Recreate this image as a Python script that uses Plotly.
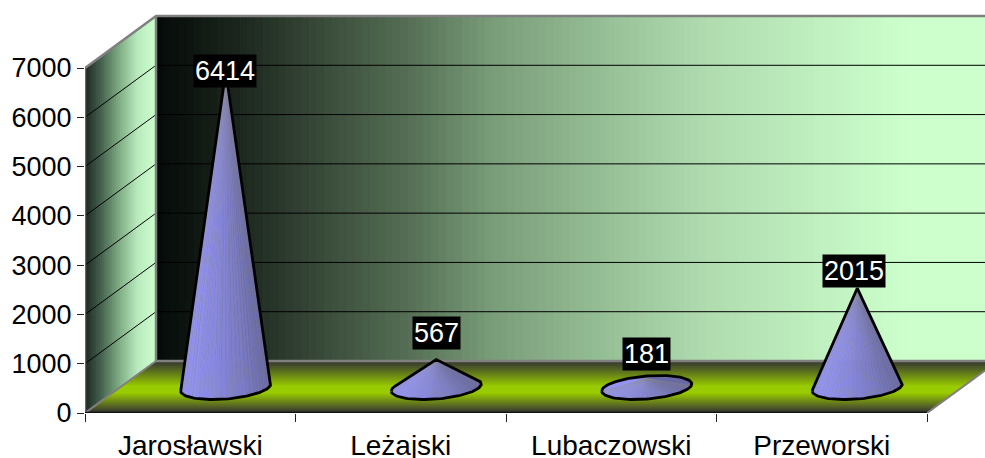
import plotly.graph_objects as go
import numpy as np

# ---- data ----
categories = ["Jarosławski", "Leżajski", "Lubaczowski", "Przeworski"]
values = [6414, 567, 181, 2015]
y_ticks = [0, 1000, 2000, 3000, 4000, 5000, 6000, 7000]
label_lift_px = [0, 27, 25, 17]
label_nudge_px = [-1, 0, 0, -3]

# ---- geometry of the pseudo-3D box (pixels of the 985x458 page) ----
W, H = 985, 458
PX0, PY0 = 85, 413          # origin of the front plane
CAT_PX = 210.5              # pixels per category
PX_PER_UNIT = 345 / 7000    # pixels per value unit
DX_PX, DY_PX = 71, 52       # depth offset of the back wall
TOP_PX = 8                  # top of the plotting region

FONT = "Liberation Sans, Arial, sans-serif"
FS_X, FS_Y, FS_LABEL = 28, 27, 27


def X(px):
    return (px - PX0) / CAT_PX


def Y(py):
    return (PY0 - py) / PX_PER_UNIT


def lerp_stops(stops, p):
    xs = [s[0] for s in stops]
    return [float(np.interp(p, xs, [s[1][i] for s in stops])) for i in range(3)]


def rgb(c):
    return "rgb(%d,%d,%d)" % tuple(int(round(v)) for v in c)


shapes = []


def poly(pts, color):
    path = "M " + " L ".join(f"{X(a):.5f},{Y(b):.3f}" for a, b in pts) + " Z"
    shapes.append(dict(type="path", path=path, xref="x", yref="y", layer="below",
                       fillcolor=color, line=dict(color=color, width=1)))


# back wall, horizontal gradient
wall_stops = [(0.0, (5, 10, 8)), (0.10, (28, 38, 30)), (0.214, (62, 80, 62)), (0.30, (85, 110, 85)),
              (0.397, (120, 155, 120)), (0.53, (150, 190, 150)), (0.658, (176, 220, 176)),
              (0.815, (195, 243, 195)), (0.89, (204, 255, 204)), (1.0, (204, 255, 204))]
back_l = PX0 + DX_PX
back_r = back_l + 4 * CAT_PX
N = 110
for i in range(N):
    a = back_l + (back_r - back_l) * i / N
    b = back_l + (back_r - back_l) * (i + 1) / N
    poly([(a, PY0 - DY_PX - 345), (b, PY0 - DY_PX - 345), (b, PY0 - DY_PX), (a, PY0 - DY_PX)],
         rgb(lerp_stops(wall_stops, (i + .5) / N)))

# left wall, gradient across the depth
side_stops = [(0.0, (26, 36, 30)), (0.25, (72, 102, 82)), (0.5, (130, 175, 135)),
              (0.75, (185, 235, 190)), (1.0, (204, 255, 204))]
N = 36
for i in range(N):
    f0, f1 = i / N, (i + 1) / N
    poly([(PX0 + DX_PX * f0, PY0 - 345 - DY_PX * f0), (PX0 + DX_PX * f1, PY0 - 345 - DY_PX * f1),
          (PX0 + DX_PX * f1, PY0 - DY_PX * f1), (PX0 + DX_PX * f0, PY0 - DY_PX * f0)],
         rgb(lerp_stops(side_stops, (i + .5) / N)))

# floor, gradient along the depth
floor_stops = [(0.0, (50, 50, 50)), (0.12, (74, 84, 40)), (0.5, (153, 204, 0)),
               (0.62, (153, 204, 0)), (0.9, (80, 90, 40)), (1.0, (48, 48, 48))]
N = 52
for i in range(N):
    f0, f1 = i / N, (i + 1) / N
    poly([(PX0 + DX_PX * (1 - f0), PY0 - DY_PX * (1 - f0)),
          (PX0 + DX_PX * (1 - f0) + 4 * CAT_PX, PY0 - DY_PX * (1 - f0)),
          (PX0 + DX_PX * (1 - f1) + 4 * CAT_PX, PY0 - DY_PX * (1 - f1)),
          (PX0 + DX_PX * (1 - f1), PY0 - DY_PX * (1 - f1))],
         rgb(lerp_stops(floor_stops, (i + .5) / N)))

traces = []


def line(pts, color, width):
    traces.append(go.Scatter(x=[X(p[0]) for p in pts], y=[Y(p[1]) for p in pts], mode="lines",
                             line=dict(color=color, width=width), hoverinfo="skip",
                             showlegend=False, cliponaxis=False))


# gridlines on side and back walls
for t in y_ticks[1:]:
    py = PY0 - t * PX_PER_UNIT
    line([(PX0, py), (back_l, py - DY_PX), (W, py - DY_PX)], "#000000", 1)

# frame
GREY = "#808080"
line([(PX0, PY0 - 345), (back_l, PY0 - 345 - DY_PX), (W, PY0 - 345 - DY_PX)], GREY, 2.5)
line([(back_l, PY0 - 345 - DY_PX), (back_l, PY0 - DY_PX), (W, PY0 - DY_PX)], GREY, 2.5)
line([(PX0, PY0), (back_l, PY0 - DY_PX)], GREY, 2)
line([(PX0 + 4 * CAT_PX, PY0), (W, PY0 - DY_PX * (W - PX0 - 4 * CAT_PX) / DX_PX)], GREY, 2)
line([(PX0, PY0 - 345), (PX0, PY0)], "#666666", 2.5)
line([(PX0, PY0), (PX0 + 4 * CAT_PX, PY0)], "#111111", 2.5)


# ---- cones ----
def hull(points):
    pts = sorted(set(points))
    def cross(o, a, b):
        return (a[0] - o[0]) * (b[1] - o[1]) - (a[1] - o[1]) * (b[0] - o[0])
    lo, up = [], []
    for p in pts:
        while len(lo) >= 2 and cross(lo[-2], lo[-1], p) <= 0:
            lo.pop()
        lo.append(p)
    for p in reversed(pts):
        while len(up) >= 2 and cross(up[-2], up[-1], p) <= 0:
            up.pop()
        up.append(p)
    return lo[:-1] + up[:-1]


RX, RY, SKEW = 45.0, 11.5, 3.5
SHADES = 22
shade_stops = [(0.0, (150, 150, 250)), (0.35, (138, 138, 228)), (0.7, (122, 122, 198)), (1.0, (102, 102, 165))]
groups = {k: ([], []) for k in range(SHADES)}
streak_x, streak_y = [], []
outlines = []
for idx, v in enumerate(values):
    cx = PX0 + (idx + 0.5) * CAT_PX + DX_PX / 2
    cy = PY0 - DY_PX / 2 + 0.5
    tip = (cx, cy - v * PX_PER_UNIT)
    ts = np.linspace(0, 2 * np.pi, 121)[:-1]
    ell = [(float(cx + RX * np.cos(t)), float(cy + RY * np.sin(t) - SKEW * np.cos(t))) for t in ts]
    h = hull(ell + [tip])
    n = len(h)
    for i in range(n):
        p, q = h[i], h[(i + 1) % n]
        if p == tip or q == tip:
            continue
        u = ((p[0] + q[0]) / 2 - (cx - RX)) / (2 * RX)
        k = min(SHADES - 1, max(0, int(u * SHADES)))
        gx, gy = groups[k]
        gx += [X(tip[0]), X(p[0]), X(q[0]), X(tip[0]), None]
        gy += [Y(tip[1]), Y(p[1]), Y(q[1]), Y(tip[1]), None]
    for i, t in enumerate(ts):
        if np.sin(t) > 0 and i % 2 == 0:
            e = ell[i]
            streak_x += [X(tip[0]), X(e[0]), None]
            streak_y += [Y(tip[1]), Y(e[1]), None]
    outlines.append(h + [h[0]])

for k, (gx, gy) in groups.items():
    col = rgb(lerp_stops(shade_stops, (k + .5) / SHADES))
    traces.append(go.Scatter(x=gx, y=gy, mode="lines", fill="toself", fillcolor=col,
                             line=dict(color=col, width=0.6), hoverinfo="skip", showlegend=False))
traces.append(go.Scatter(x=streak_x, y=streak_y, mode="lines",
                         line=dict(color="rgba(140,140,140,0.4)", width=0.8),
                         hoverinfo="skip", showlegend=False))
for o in outlines:
    traces.append(go.Scatter(x=[X(p[0]) for p in o], y=[Y(p[1]) for p in o], mode="lines",
                             line=dict(color="#000000", width=2.8), hoverinfo="skip", showlegend=False))

# ---- data labels ----
annotations = []
for idx, v in enumerate(values):
    annotations.append(dict(
        x=idx + 0.5 + DX_PX / 2 / CAT_PX, y=v + (DY_PX / 2 - 0.5) / PX_PER_UNIT,
        xref="x", yref="y", text=str(v), showarrow=False, bgcolor="#000000",
        font=dict(color="#ffffff", size=FS_LABEL, family=FONT), borderpad=1,
        xanchor="center", yanchor="middle",
        xshift=label_nudge_px[idx], yshift=label_lift_px[idx]))

fig = go.Figure(traces)
fig.update_layout(
    width=W, height=H, autosize=False, margin=dict(l=0, r=0, t=0, b=0, autoexpand=False),
    paper_bgcolor="#ffffff", plot_bgcolor="#ffffff", showlegend=False,
    shapes=shapes, annotations=annotations,
    font=dict(family=FONT, size=FS_Y, color="#000000"),
    xaxis=dict(domain=[PX0 / W, 1], range=[0, X(W)], showgrid=False, zeroline=False, automargin=False,
               tickmode="array", tickvals=[i + 0.5 for i in range(len(categories))],
               ticktext=categories, ticks="outside", ticklen=0, tickcolor="rgba(0,0,0,0)",
               ticklabelstandoff=7, showline=False,
               tickfont=dict(size=FS_X, family=FONT, color="#000000"),
               minor=dict(tickmode="array", tickvals=list(range(len(categories) + 1)),
                          ticks="outside", ticklen=8, tickcolor="#222222", tickwidth=1, showgrid=False)),
    yaxis=dict(domain=[(H - PY0) / H, (H - TOP_PX) / H], range=[0, Y(TOP_PX)], showgrid=False, zeroline=False,
               automargin=False,
               tickmode="array", tickvals=y_ticks, ticks="outside", ticklen=7, tickcolor="#222222",
               tickwidth=1, ticklabelstandoff=0, showline=False,
               tickfont=dict(size=FS_Y, family=FONT, color="#000000")),
)
fig.write_html("out.html", config=dict(displayModeBar=False),
               post_script="document.body.style.margin='0';document.body.style.overflow='hidden';")
